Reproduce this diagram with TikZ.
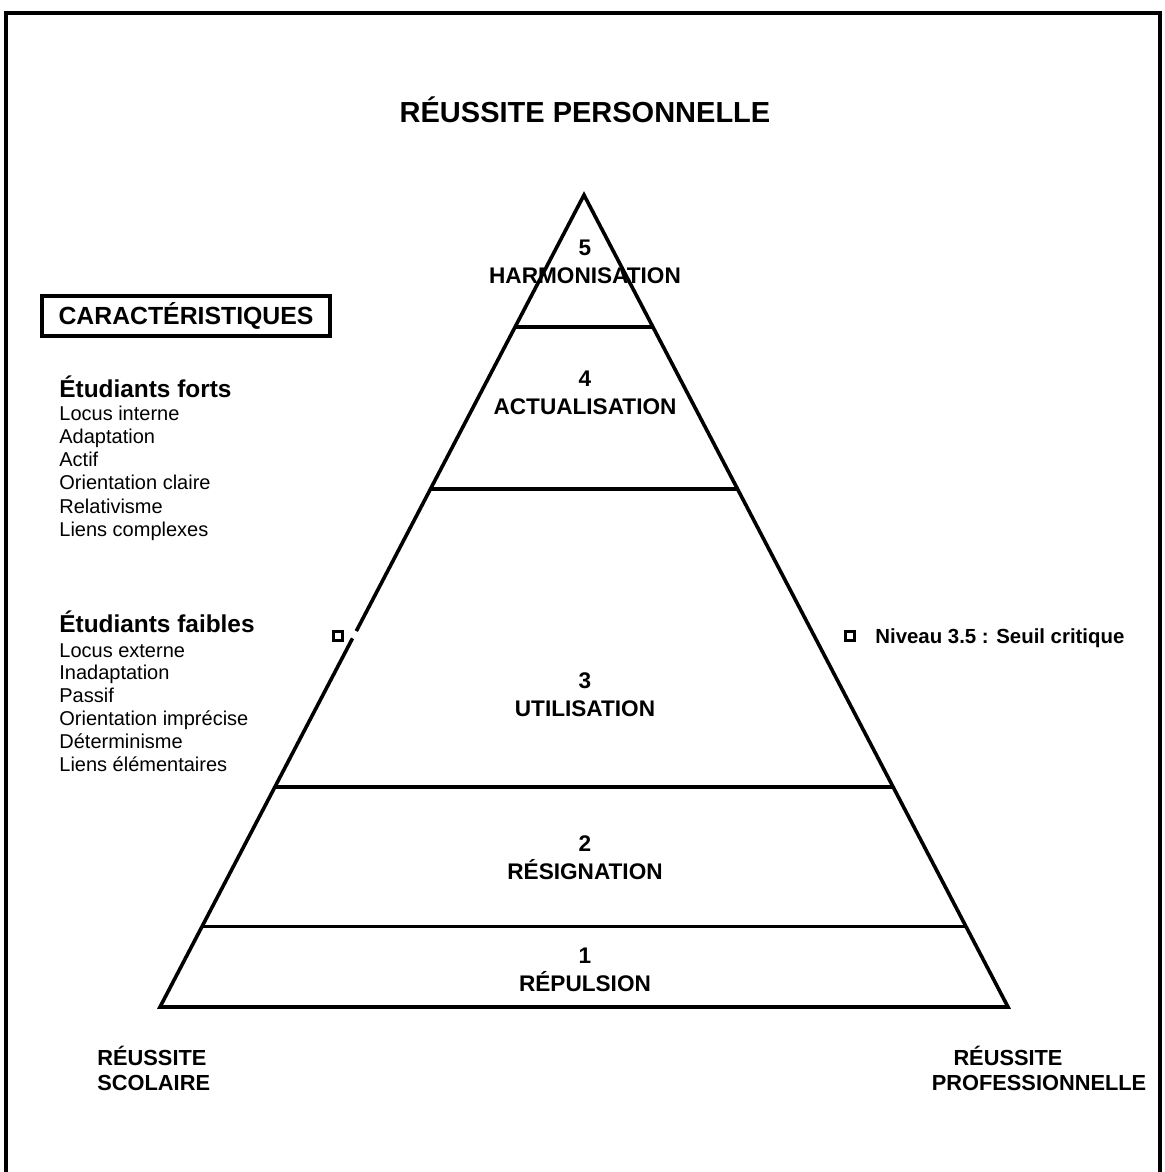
\documentclass[tikz,border=0pt]{standalone}
\usepackage{fontspec}
\setmainfont{Liberation Sans}
\usepackage{tikz}
\usetikzlibrary{calc,positioning}

\tikzset{
	trait/.style={line width=1.8pt},
	titre/.style={font=\fontsize{14.5}{17}\selectfont\bfseries, inner sep=0pt, anchor=base},
	niveau/.style={font=\fontsize{11.3}{14}\selectfont\bfseries, align=center, inner sep=0pt},
	entete/.style={font=\fontsize{12.2}{14}\selectfont\bfseries, anchor=base west, inner sep=0pt},
	liste/.style={font=\fontsize{10}{12}\selectfont, anchor=base west, inner sep=0pt},
	pole/.style={font=\fontsize{10.9}{12.5}\selectfont\bfseries, inner sep=0pt},
	repere/.style={draw, line width=1.6pt, minimum size=4.5pt, inner sep=0pt},
}

\begin{document}
\begin{tikzpicture}[x=0.5pt,y=-0.5pt]
		\useasboundingbox (0,0) rectangle (1164,1172);

		% Cadre
		\draw[trait] (6,1172) -- (6,13) -- (1160,13) -- (1160,1172);

		% Koordinaten
		\coordinate (sommet) at (584,195);
		\coordinate (basegauche) at (160,1007);
		\coordinate (basedroite) at (1008,1007);
		\coordinate (coupe1) at ($(sommet)!0.537!(basegauche)$);
		\coordinate (coupe2) at ($(sommet)!0.546!(basegauche)$);

		% Pyramide
		\draw[trait] (coupe1) -- (sommet) -- (basedroite) -- (basegauche) -- (coupe2);
		\foreach \f/\n in {0.1626/5, 0.362/4, 0.729/3, 0.901/2}
			\draw[trait] ($(sommet)!\f!(basegauche)$) coordinate (g\n)
				-- ($(sommet)!\f!(basedroite)$) coordinate (d\n);

		% Niveaux
		\node[titre] (perso) at (585,123) {RÉUSSITE PERSONNELLE};
		\node[niveau] (n5) at (585,262) {5\\HARMONISATION};
		\node[niveau] (n4) at (585,393) {4\\ACTUALISATION};
		\node[niveau] (n3) at (585,695) {3\\UTILISATION};
		\node[niveau] (n2) at (585,858) {2\\RÉSIGNATION};
		\node[niveau] (n1) at (585,970) {1\\RÉPULSION};

		% Seuil critique
		\node[repere] (reperegauche) at (338,636) {};
		\node[repere] (reperedroit) at (850,636) {};
		\node[font=\fontsize{10.2}{12}\selectfont\bfseries, anchor=base west, inner sep=0pt]
			(seuil) at (875,643) {Niveau 3.5 : Seuil critique};

		% Caracteristiques
		\node[draw, line width=1.6pt, minimum width=144pt, minimum height=18.5pt,
			font=\fontsize{12.4}{14}\selectfont\bfseries] (carac) at (186,316) {CARACTÉRISTIQUES};

		\node[entete] (forts) at (59,397) {Étudiants forts};
		\foreach \txt [count=\i] in {Locus interne, Adaptation, Actif, Orientation claire, Relativisme, Liens complexes}
			\node[liste] (fort\i) at (59,{420+23.3*(\i-1)}) {\txt};

		\node[entete] (faibles) at (59,632) {Étudiants faibles};
		\foreach \txt [count=\i] in {Locus externe, Inadaptation, Passif, Orientation imprécise, Déterminisme, Liens élémentaires}
			\node[liste] (faible\i) at (59,{657+22.9*(\i-1)}) {\txt};

		% Poles
		\node[pole, anchor=base west] (scol1) at (97,1065) {RÉUSSITE};
		\node[pole, anchor=base west] (scol2) at (97,1090) {SCOLAIRE};
		\node[pole, anchor=base] (prof1) at (1008,1065) {RÉUSSITE};
		\node[pole, anchor=base] (prof2) at (1039,1090) {PROFESSIONNELLE};
	\end{tikzpicture}
\end{document}
